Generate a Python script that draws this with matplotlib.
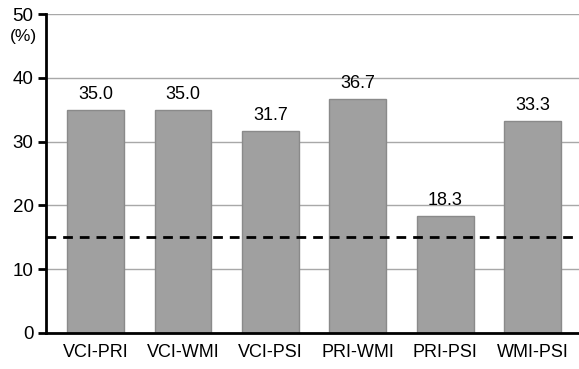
import matplotlib.pyplot as plt

plt.rcParams['font.family'] = ['Liberation Sans', 'DejaVu Sans']

# Data
pairs = ['VCI-PRI', 'VCI-WMI', 'VCI-PSI', 'PRI-WMI', 'PRI-PSI', 'WMI-PSI']
rates = [35.0, 35.0, 31.7, 36.7, 18.3, 33.3]
threshold = 15

fig = plt.figure(figsize=(5.79, 3.69), dpi=100)
ax = fig.add_axes([0.0795, 0.0976, 0.9205, 0.864])

x = range(len(pairs))
bars = ax.bar(x, rates, width=0.65, color='#a0a0a0', edgecolor='#8a8a8a',
              linewidth=1, zorder=2)

for i, val in enumerate(rates):
    ax.annotate(f'{val:.1f}', (i, val), xytext=(0, 5), textcoords='offset points',
                ha='center', va='bottom', fontsize=13)

# Threshold line
ax.axhline(threshold, color='black', linestyle=(0, (3.5, 2.5)), linewidth=2, zorder=3)

ax.set_xlim(-0.566, 5.53)
ax.set_ylim(0, 50)
ax.set_yticks([0, 10, 20, 30, 40, 50])
ax.set_xticks(list(x))
ax.set_xticklabels(pairs, fontsize=13)
ax.tick_params(axis='y', labelsize=13.5, length=6, width=2, pad=3)
ax.tick_params(axis='x', length=0, pad=8)
ax.yaxis.grid(True, color='#a8a8a8', linewidth=1, zorder=0)
ax.set_axisbelow(True)

for side in ['top', 'right']:
    ax.spines[side].set_visible(False)
ax.spines['left'].set_linewidth(2)
ax.spines['bottom'].set_linewidth(2)

fig.text(0.04, 0.9, '(%)', fontsize=12.5, ha='center', va='center')

plt.savefig('out.png', dpi=100)
plt.close()
